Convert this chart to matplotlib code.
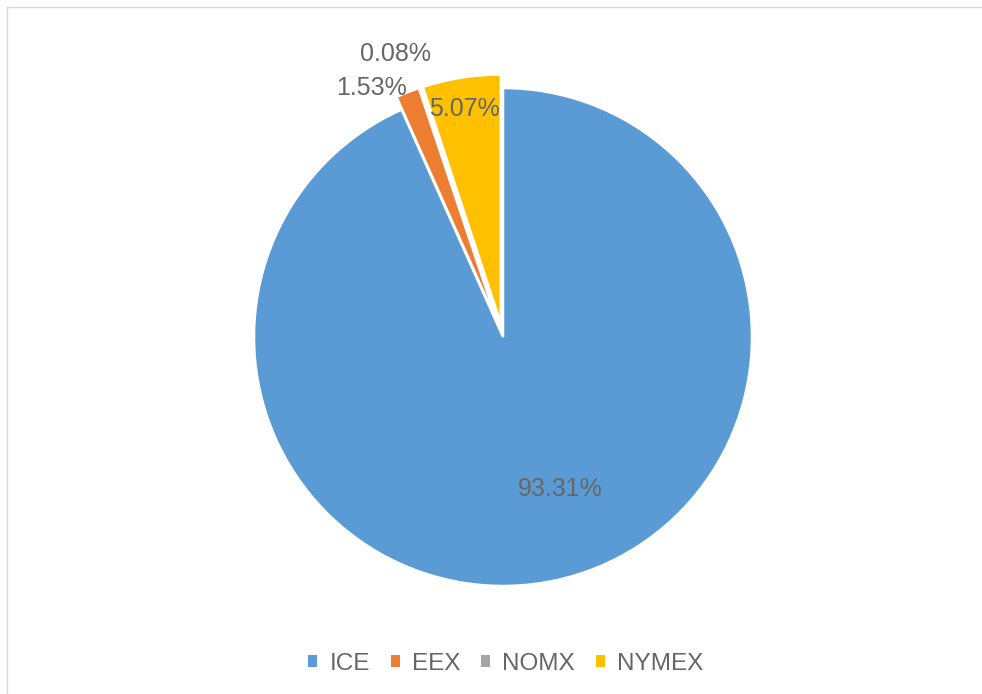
import matplotlib
matplotlib.use("Agg")
import matplotlib.pyplot as plt
from matplotlib.lines import Line2D
from matplotlib.patches import Patch

exchanges = ["ICE", "EEX", "NOMX", "NYMEX"]
shares = [93.31, 1.53, 0.08, 5.07]
colors = ["#5B9BD5", "#ED7D31", "#A5A5A5", "#FFC000"]
explode = [0.0, 0.055, 0.055, 0.055]
# label anchor points (pie units, radius = 1)
label_xy = [(0.23, -0.61), (-0.53, 1.0), (-0.43, 1.135), (-0.155, 0.915)]

text_grey = "#666666"
font = ["Liberation Sans", "DejaVu Sans"]

W, H, DPI = 982, 694, 100
cx, cy, r = 503, 337, 249  # pie centre / radius in pixels

fig = plt.figure(figsize=(W / DPI, H / DPI), dpi=DPI)
ax = fig.add_axes([0, 0, 1, 1])

wedges, texts, autotexts = ax.pie(
    shares, colors=colors, explode=explode, startangle=90, counterclock=False,
    autopct="%.2f%%", wedgeprops=dict(edgecolor="white", linewidth=1.8),
)
for t, v, (x, y) in zip(autotexts, shares, label_xy):
    t.set_text(f"{v:.2f}%")
    t.set_position((x, y))
    t.set_ha("center")
    t.set_va("center")
    t.set_color(text_grey)
    t.set_fontsize(18)
    t.set_family(font)

ax.set_xlim(-cx / r, (W - cx) / r)
ax.set_ylim(-(H - cy) / r, cy / r)
ax.set_aspect("equal", adjustable="box")
ax.axis("off")

handles = [Patch(facecolor=c, edgecolor="none") for c in colors]
fig.legend(
    handles, exchanges, loc="center", bbox_to_anchor=(0.515, 1 - 664 / H),
    ncol=4, frameon=False, handlelength=0.38, handleheight=0.38,
    handletextpad=0.5, columnspacing=0.85,
    prop=dict(family=font, size=17.5),
    labelcolor=text_grey,
)

# chart area border (only top and left edges fall inside the image)
border = dict(color="#D9D9D9", lw=1.0, transform=fig.transFigure)
fig.add_artist(Line2D([6.5 / W, 1], [1 - 6.5 / H, 1 - 6.5 / H], **border))
fig.add_artist(Line2D([6.5 / W, 6.5 / W], [0, 1 - 6.5 / H], **border))

fig.savefig("out.png", dpi=DPI)
